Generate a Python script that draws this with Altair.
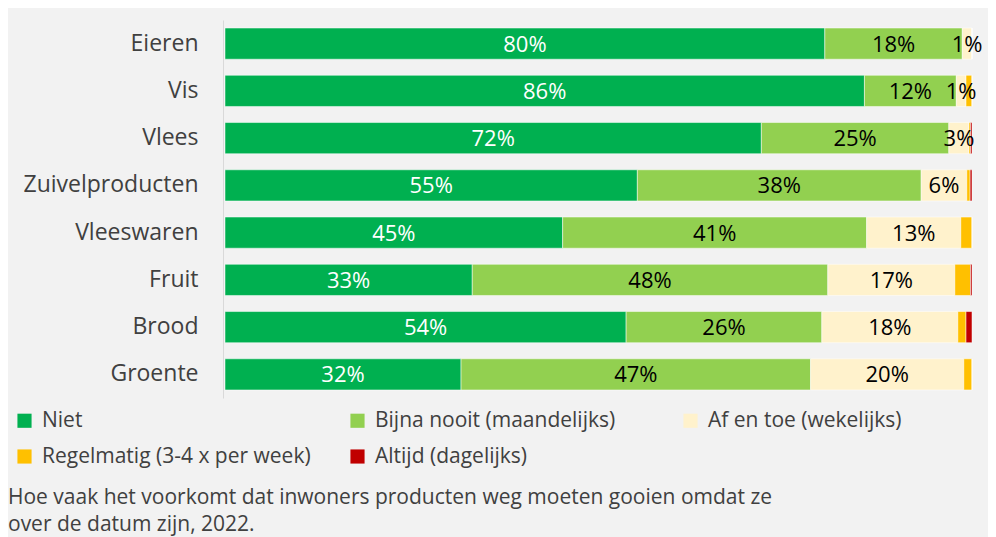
import altair as alt
import pandas as pd

products = ["Eieren", "Vis", "Vlees", "Zuivelproducten", "Vleeswaren", "Fruit", "Brood", "Groente"]
categories = ["Niet", "Bijna nooit (maandelijks)", "Af en toe (wekelijks)",
              "Regelmatig (3-4 x per week)", "Altijd (dagelijks)"]
colors = ["#00b050", "#92d050", "#fff2cc", "#ffc000", "#c00000"]

niet = [80.3, 85.6, 71.8, 55.2, 45.2, 33.1, 53.7, 31.6]
bijna = [18.4, 12.3, 25.1, 38.0, 40.7, 47.6, 26.2, 46.8]
afentoe = [1.3, 1.3, 2.7, 6.1, 12.6, 17.0, 18.2, 20.5]
regelmatig = [0.0, 0.8, 0.2, 0.45, 1.5, 2.1, 1.1, 1.1]
altijd = [0.0, 0.0, 0.2, 0.25, 0.0, 0.2, 0.8, 0.0]

niet_lbl = ["80%", "86%", "72%", "55%", "45%", "33%", "54%", "32%"]
bijna_lbl = ["18%", "12%", "25%", "38%", "41%", "48%", "26%", "47%"]
afentoe_lbl = ["1%", "1%", "3%", "6%", "13%", "17%", "18%", "20%"]

caption = ["Hoe vaak het voorkomt dat inwoners producten weg moeten gooien omdat ze",
           "over de datum zijn, 2022."]

series = [niet, bijna, afentoe, regelmatig, altijd]
labels = [niet_lbl, bijna_lbl, afentoe_lbl, [""] * 8, [""] * 8]

rows = []
for ci, (cat, vals, lbls) in enumerate(zip(categories, series, labels)):
    for p, v, l in zip(products, vals, lbls):
        rows.append({"product": p, "cat": cat, "order": ci, "value": v,
                     "label": l, "white": ci == 0})
df = pd.DataFrame(rows)

FONT = "Open Sans"

base = alt.Chart(df).transform_stack(
    stack="value", groupby=["product"], as_=["x0", "x1"],
    sort=[alt.SortField("order", order="ascending")]
).transform_calculate(mid="(datum.x0 + datum.x1) / 2")

y = alt.Y("product:N", sort=products, title=None,
          scale=alt.Scale(paddingInner=0.34, paddingOuter=0.17),
          axis=alt.Axis(labelFont=FONT, labelFontSize=23, labelColor="#404040",
                        labelPadding=25, ticks=False, domainColor="#d9d9d9",
                        domainWidth=1, labelLimit=300, offset=2))
xs = alt.Scale(domain=[0, 100], nice=False, zero=True)

bars = base.mark_bar(stroke="white", strokeWidth=0.5).encode(
    x=alt.X("x0:Q", scale=xs, axis=None),
    x2="x1:Q",
    y=y,
    color=alt.Color("cat:N", sort=categories,
                    scale=alt.Scale(domain=categories, range=colors),
                    legend=alt.Legend(title=None, orient="none", legendX=-211, legendY=390,
                                      columns=3, direction="horizontal", gridAlign="all",
                                      symbolType="square", symbolSize=200,
                                      symbolStrokeWidth=0, labelFont=FONT,
                                      labelFontSize=21, labelColor="#404040",
                                      labelOffset=7,
                                      columnPadding=36, rowPadding=14,
                                      labelLimit=400)),
    order=alt.Order("order:Q"),
)

text = base.transform_filter("datum.label != ''").mark_text(
    font=FONT, fontSize=22, baseline="middle", align="center", dy=1
).encode(
    x=alt.X("mid:Q", scale=xs),
    y=alt.Y("product:N", sort=products),
    text="label:N",
    color=alt.condition("datum.white", alt.value("white"), alt.value("black")),
)

chart = alt.layer(bars, text).properties(
    width=747, height=378,
    autosize=alt.AutoSizeParams(type="none"),
    padding={"left": 217, "top": 12, "right": 16, "bottom": 139},
    background="#f2f2f2",
    title=alt.TitleParams(text=caption, orient="bottom", anchor="start", frame="group",
                          dx=-217, offset=20, font=FONT, fontSize=21,
                          fontWeight="normal", color="#404040", lineHeight=27),
).configure_view(stroke=None)

chart.save("out.html", embed_options={"renderer": "svg", "actions": False})
